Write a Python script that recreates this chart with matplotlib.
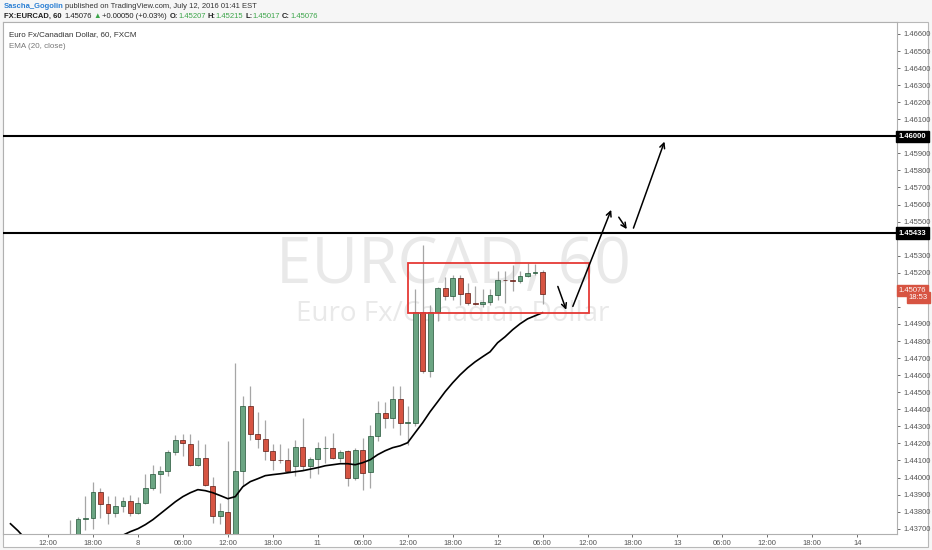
import matplotlib
matplotlib.use("Agg")
import matplotlib.pyplot as plt
from matplotlib.patches import Rectangle

plt.rcParams['font.family'] = ['Liberation Sans', 'DejaVu Sans']

# 캔들 데이터 (1시간봉, x = 봉 번호, 0 = 7일 12:00)
bar_idx = list(range(3, 67))
opens = [1.4360, 1.4364, 1.43759, 1.43763, 1.43913, 1.43847, 1.43792, 1.43831, 1.43860, 1.43792,
         1.43851, 1.43938, 1.44022, 1.44040, 1.44147, 1.44221, 1.44195, 1.44075, 1.44114, 1.43952,
         1.43776, 1.43798, 1.4363, 1.44036, 1.44421, 1.44257, 1.44226, 1.44153, 1.44104, 1.44104,
         1.44065, 1.44179, 1.44065, 1.44108, 1.44173, 1.44175, 1.44114, 1.44153, 1.43997, 1.44163,
         1.44030, 1.44241, 1.44381, 1.44349, 1.44460, 1.44320, 1.44322, 1.44973, 1.44622, 1.44973,
         1.45110, 1.45065, 1.45169, 1.45081, 1.45022, 1.45020, 1.45026, 1.45071, 1.45159, 1.45155,
         1.45151, 1.45182, 1.45198, 1.45207]
highs = [1.43753, 1.43766, 1.43893, 1.43971, 1.43938, 1.43893, 1.43893, 1.43884, 1.43897, 1.43886,
         1.44022, 1.44075, 1.44065, 1.44163, 1.44251, 1.44257, 1.44257, 1.44222, 1.44198, 1.44003,
         1.43851, 1.44212, 1.44671, 1.44475, 1.44538, 1.44384, 1.44335, 1.44198, 1.44198, 1.44173,
         1.44218, 1.44349, 1.44120, 1.44206, 1.44241, 1.44260, 1.44163, 1.44163, 1.44173, 1.44231,
         1.44309, 1.44446, 1.44440, 1.44538, 1.44538, 1.44417, 1.45104, 1.45364, 1.45012, 1.45116,
         1.45178, 1.45188, 1.45188, 1.45143, 1.45120, 1.45104, 1.45104, 1.45208, 1.45213, 1.45247,
         1.45208, 1.45257, 1.45253, 1.45215]
lows = [1.4355, 1.4360, 1.43694, 1.43698, 1.43763, 1.43730, 1.43769, 1.43796, 1.43776, 1.43788,
        1.43847, 1.43929, 1.43909, 1.44011, 1.44134, 1.44124, 1.44069, 1.44065, 1.43948, 1.43734,
        1.43730, 1.4360, 1.4360, 1.43948, 1.44222, 1.44173, 1.44100, 1.44042, 1.44085, 1.44036,
        1.44011, 1.44046, 1.43997, 1.44022, 1.44085, 1.44108, 1.44089, 1.43948, 1.43987, 1.43929,
        1.43938, 1.44212, 1.44290, 1.44290, 1.44251, 1.44192, 1.44300, 1.44612, 1.44592, 1.44915,
        1.45042, 1.45042, 1.45012, 1.45012, 1.45012, 1.44999, 1.45012, 1.45042, 1.45022, 1.45096,
        1.45140, 1.45178, 1.45188, 1.45017]
closes = [1.4364, 1.43759, 1.43762, 1.43913, 1.43847, 1.43792, 1.43835, 1.43860, 1.43792, 1.43851,
          1.43938, 1.44022, 1.44040, 1.44147, 1.44218, 1.44202, 1.44075, 1.44114, 1.43958, 1.43776,
          1.43802, 1.4363, 1.44036, 1.44421, 1.44255, 1.44226, 1.44153, 1.44104, 1.44100, 1.44036,
          1.44179, 1.44065, 1.44108, 1.44173, 1.44175, 1.44114, 1.44147, 1.43997, 1.44163, 1.44026,
          1.44241, 1.44381, 1.44349, 1.44460, 1.44320, 1.44322, 1.44973, 1.44622, 1.44973, 1.45110,
          1.45065, 1.45169, 1.45077, 1.45022, 1.45020, 1.45026, 1.45071, 1.45159, 1.45155, 1.45151,
          1.45182, 1.45198, 1.45207, 1.45076]

# EMA(20, close) - 그림에서 읽은 값
ema_idx = list(range(-5, 67))
ema_vals = [1.43729, 1.43688, 1.43640, 1.43610, 1.43590, 1.43575, 1.43565, 1.43558, 1.43555, 1.43558,
            1.43565, 1.43578, 1.43595, 1.43615, 1.43638, 1.43662, 1.43683, 1.43700, 1.43724, 1.43753,
            1.43788, 1.43823, 1.43858, 1.43888, 1.43911, 1.43929, 1.43923, 1.43911, 1.43894, 1.43876,
            1.43888, 1.43946, 1.43976, 1.43993, 1.44011, 1.44017, 1.44022, 1.44028, 1.44034, 1.44040,
            1.44049, 1.44058, 1.44069, 1.44075, 1.44081, 1.44081, 1.44075, 1.44087, 1.44104, 1.44134,
            1.44157, 1.44175, 1.44186, 1.44204, 1.44263, 1.44321, 1.44386, 1.44444, 1.44503, 1.44555,
            1.44602, 1.44643, 1.44678, 1.44708, 1.44737, 1.44790, 1.44825, 1.44866, 1.44901, 1.44930,
            1.44948, 1.44966]

# 수평선, 박스, 화살표
levels = [1.46000, 1.45433]
level_labels = ['1.46000', '1.45433']
box = (48.04, 72.2, 1.44967, 1.45257)  # x0, x1, y0, y1
arrows = [((68.04, 1.45120), (69.16, 1.44983)),
          ((70.04, 1.45003), (75.16, 1.45569)),
          ((76.17, 1.45526), (77.24, 1.45456)),
          ((78.13, 1.45462), (82.27, 1.45969))]

x_ticks = list(range(0, 109, 6))
x_labels = ['12:00', '18:00', '8', '06:00', '12:00', '18:00', '11', '06:00', '12:00', '18:00',
            '12', '06:00', '12:00', '18:00', '13', '06:00', '12:00', '18:00', '14']
y_ticks = [round(1.437 + 0.001 * i, 3) for i in range(30)]
hidden_y = [1.460, 1.454, 1.451, 1.450]  # 가격 박스에 가려지는 눈금

last_price = 1.45076
countdown = '18:53'

W, H = 932, 550
def fx(px):
    return px / W
def fy(py):
    return 1 - py / H

fig = plt.figure(figsize=(W / 100, H / 100), dpi=100, facecolor='#f6f6f6')
frame = Rectangle((fx(3), fy(547)), fx(928) - fx(3), fy(22) - fy(547),
                  transform=fig.transFigure, facecolor='white',
                  edgecolor='#b8b8b8', lw=0.8, zorder=-5)
fig.patches.append(frame)
ax = fig.add_axes([fx(3), fy(534), fx(897) - fx(3), fy(22) - fy(534)])
ax.set_facecolor('white')

up_col, dn_col = '#6ba583', '#d75442'
up_edge, dn_edge = '#225437', '#5b1a13'
for i, o, h, l, c in zip(bar_idx, opens, highs, lows, closes):
    ax.vlines(i, l, h, color='#a6a6a6', lw=0.9, zorder=2)
    up = c >= o
    ax.bar(i, max(abs(c - o), 0.00003), bottom=min(o, c), width=0.64,
           color=up_col if up else dn_col, edgecolor=up_edge if up else dn_edge,
           lw=0.5, zorder=3)

ax.plot(ema_idx, ema_vals, color='black', lw=1.2, zorder=4)

for lv in levels:
    ax.axhline(lv, color='black', lw=1.5, zorder=5)

ax.add_patch(Rectangle((box[0], box[2]), box[1] - box[0], box[3] - box[2],
                       fill=False, edgecolor='#e53935', lw=1.3, zorder=5))
for (x0, y0), (x1, y1) in arrows:
    ax.annotate('', xy=(x1, y1), xytext=(x0, y0),
                arrowprops=dict(arrowstyle='->', color='black', lw=1.1,
                                mutation_scale=9, shrinkA=0, shrinkB=0), zorder=6)

# 워터마크 (캔들 아래)
ax.text(fx(453), fy(266), 'EURCAD, 60', fontsize=46, color='#e9e9e9', transform=fig.transFigure,
        family='Open Sans', ha='center', va='center', zorder=0.5)
ax.text(fx(453), fy(314), 'Euro Fx/Canadian Dollar', fontsize=20, color='#e9e9e9',
        transform=fig.transFigure, family='Open Sans', ha='center', va='center', zorder=0.5)

ax.set_xlim(-6, 113.3)
ax.set_ylim(1.43669, 1.4667)
ax.set_xticks(x_ticks)
ax.set_xticklabels(x_labels)
ax.yaxis.tick_right()
ax.set_yticks(y_ticks)
ax.set_yticklabels(['' if v in hidden_y else '%.5f' % v for v in y_ticks])
ax.tick_params(axis='both', labelsize=5.5, colors='#555555', length=2.5, width=0.6, pad=2)
for s in ax.spines.values():
    s.set_color('#b0b0b0')
    s.set_linewidth(0.8)

ytr = ax.get_yaxis_transform()
for lv, lab in zip(levels, level_labels):
    ax.text(1.002, lv, lab, transform=ytr, ha='left', va='center', fontsize=5.5,
            color='white', weight='bold', clip_on=False, zorder=10,
            bbox=dict(boxstyle='square,pad=0.3', fc='black', ec='black'))
ax.text(1.002, last_price, '%.5f' % last_price, transform=ytr, ha='left', va='bottom',
        fontsize=5.5, color='white', clip_on=False, zorder=10,
        bbox=dict(boxstyle='square,pad=0.25', fc='#d75442', ec='#d75442'))
ax.text(1.013, last_price, countdown, transform=ytr, ha='left', va='top',
        fontsize=5.5, color='white', clip_on=False, zorder=10,
        bbox=dict(boxstyle='square,pad=0.25', fc='#d75442', ec='#d75442'))

# 범례
fig.text(fx(9), fy(35), 'Euro Fx/Canadian Dollar, 60, FXCM', fontsize=5.8, color='#333333',
         va='center', ha='left')
fig.text(fx(9), fy(46), 'EMA (20, close)', fontsize=5.8, color='#777777', va='center', ha='left')

# 상단 헤더 - 앞 글자 끝에 이어서 배치
green = '#3ca54a'
header1 = [('Sascha_Gogolin', 'bold', '#2a7fd4', 2),
           ('published on TradingView.com, July 12, 2016 01:41 EST', 'normal', '#333333', 0)]
header2 = [('FX:EURCAD, 60', 'bold', '#222222', 3),
           ('1.45076', 'normal', '#222222', 2),
           ('\u25b2', 'normal', green, 1),
           ('+0.00050 (+0.03%)', 'normal', '#222222', 3),
           ('O:', 'bold', '#222222', 0), ('1.45207', 'normal', green, 2),
           ('H:', 'bold', '#222222', 0), ('1.45215', 'normal', green, 2),
           ('L:', 'bold', '#222222', 0), ('1.45017', 'normal', green, 2),
           ('C:', 'bold', '#222222', 0), ('1.45076', 'normal', green, 0)]
renderer = fig.canvas.get_renderer()
for row, py in [(header1, 7), (header2, 16)]:
    px = 3.5
    for txt, wt, col, gap in row:
        t = fig.text(fx(px), fy(py), txt, fontsize=5.5, color=col, weight=wt, va='center')
        bb = t.get_window_extent(renderer)
        px = bb.x1 + gap

fig.savefig('out.png', dpi=100, facecolor=fig.get_facecolor())
